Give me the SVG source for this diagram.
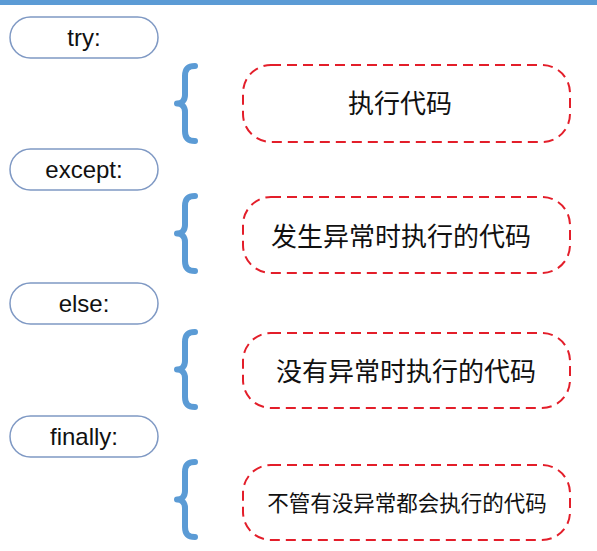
<svg xmlns="http://www.w3.org/2000/svg" xmlns:xlink="http://www.w3.org/1999/xlink" width="597" height="551" viewBox="0 0 597 551">
<style>
.kw{fill:#fff;stroke:#7f99c4;stroke-width:1.5}
.kt{font-family:"Liberation Sans",Arial,sans-serif;font-size:24px;fill:#111;text-anchor:middle}
.code{fill:#fff;stroke:#e31e2a;stroke-width:2;stroke-dasharray:10 6}
.ct{font-family:"Noto Sans CJK SC","Noto Sans",sans-serif;fill:#111;text-anchor:middle}
.brace{fill:none;stroke:#5b9bd5;stroke-width:6;stroke-linecap:round;stroke-linejoin:round}
</style>
<defs>
<path id="br" class="brace" d="M 0 0 C -7 0 -10 3 -10 10 L -10 29 C -10 34 -13 37.5 -18 37.5 C -13 37.5 -10 41 -10 46 L -10 65 C -10 72 -7 75 0 75"/>
</defs>
<rect x="0" y="0" width="597" height="5" fill="#5b9bd5"/>
<g id="try">
<rect class="kw" x="10" y="17" width="148" height="41" rx="20.5"/>
<text class="kt" x="84" y="46">try:</text>
</g>
<g id="except">
<rect class="kw" x="10" y="149" width="148" height="41" rx="20.5"/>
<text class="kt" x="84" y="178">except:</text>
</g>
<g id="else">
<rect class="kw" x="10" y="283" width="148" height="41" rx="20.5"/>
<text class="kt" x="84" y="312">else:</text>
</g>
<g id="finally">
<rect class="kw" x="10" y="416" width="148" height="41" rx="20.5"/>
<text class="kt" x="84" y="445">finally:</text>
</g>
<g id="braces">
<use xlink:href="#br" transform="translate(195,66)"/>
<use xlink:href="#br" transform="translate(195,196)"/>
<use xlink:href="#br" transform="translate(195,332)"/>
<use xlink:href="#br" transform="translate(195,462)"/>
</g>
<g id="code-try">
<rect class="code" x="243" y="65" width="327" height="77" rx="28"/>
<text class="ct" x="400" y="113" font-size="26">执行代码</text>
</g>
<g id="code-except">
<rect class="code" x="243" y="197" width="327" height="76" rx="28"/>
<text class="ct" x="401" y="246" font-size="26">发生异常时执行的代码</text>
</g>
<g id="code-else">
<rect class="code" x="243" y="333" width="327" height="75" rx="28"/>
<text class="ct" x="406" y="381" font-size="26">没有异常时执行的代码</text>
</g>
<g id="code-finally">
<rect class="code" x="243" y="465" width="327" height="75" rx="28"/>
<text class="ct" x="407" y="511" font-size="21.5">不管有没异常都会执行的代码</text>
</g>
</svg>
